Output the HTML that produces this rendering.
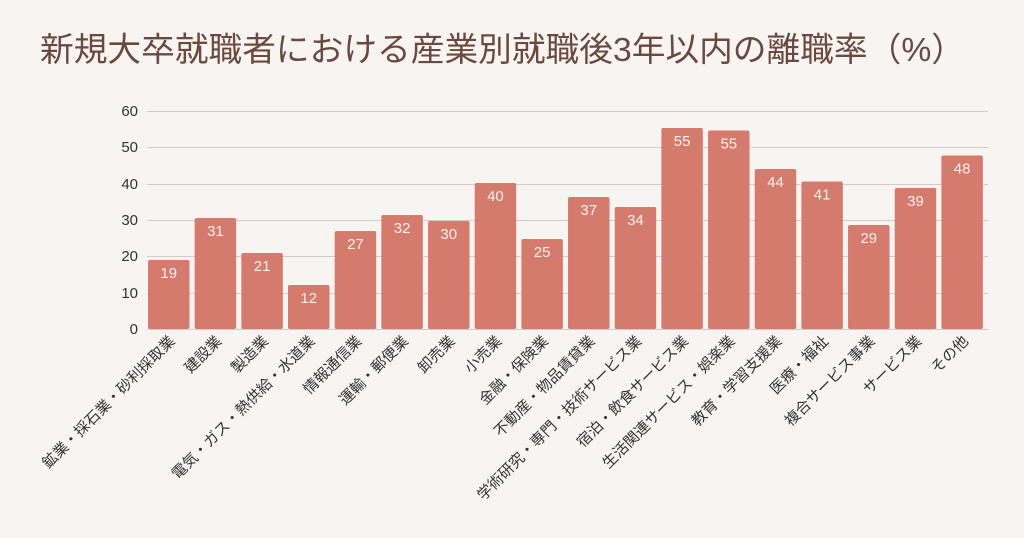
<!DOCTYPE html>
<html><head><meta charset="utf-8"><style>
body{margin:0;background:#f8f4f1;}
svg{display:block;font-family:"Liberation Sans","Noto Sans CJK JP",sans-serif;}
</style></head><body>
<svg width="1024" height="538" xmlns="http://www.w3.org/2000/svg">
<rect width="1024" height="538" fill="#f8f4f1"/>
<text x="40" y="61" font-size="33.5" fill="#6a4a40" textLength="925" lengthAdjust="spacingAndGlyphs">新規大卒就職者における産業別就職後3年以内の離職率（%）</text>
<g stroke="#d2ccc8" stroke-width="1">
<line x1="147" y1="111.5" x2="988" y2="111.5"/>
<line x1="147" y1="147.5" x2="988" y2="147.5"/>
<line x1="147" y1="184.5" x2="988" y2="184.5"/>
<line x1="147" y1="220.5" x2="988" y2="220.5"/>
<line x1="147" y1="256.5" x2="988" y2="256.5"/>
<line x1="147" y1="293.5" x2="988" y2="293.5"/>
<line x1="147" y1="329.5" x2="988" y2="329.5"/>
</g>
<g font-size="15" fill="#333" text-anchor="end">
<text x="138" y="116">60</text><text x="138" y="152">50</text><text x="138" y="189">40</text>
<text x="138" y="225">30</text><text x="138" y="261">20</text><text x="138" y="298">10</text><text x="138" y="334">0</text>
</g>
<g id="bars" fill="#d57b6e"></g>
<g id="vals" font-size="15" fill="#fbeee9" text-anchor="middle"></g>
<g id="labs" font-size="15" fill="#333" text-anchor="end"></g>
<script>
var tops=[260,218,253,285,231,215,221,183,239,197,207,128,130.5,169,181.5,225,188,155.5];
var vals=[19,31,21,12,27,32,30,40,25,37,34,55,55,44,41,29,39,48];
var labs=["鉱業・採石業・砂利採取業","建設業","製造業","電気・ガス・熱供給・水道業","情報通信業","運輸・郵便業","卸売業","小売業","金融・保険業","不動産・物品賃貸業","学術研究・専門・技術サービス業","宿泊・飲食サービス業","生活関連サービス・娯楽業","教育・学習支援業","医療・福祉","複合サービス事業","サービス業","その他"];
var ns="http://www.w3.org/2000/svg";
var B=document.getElementById("bars"),V=document.getElementById("vals"),L=document.getElementById("labs");
for(var i=0;i<18;i++){
 var x=148+i*46.67, cx=x+20.75;
 var r=document.createElementNS(ns,"rect");
 r.setAttribute("x",x);r.setAttribute("y",tops[i]);r.setAttribute("width",41.5);r.setAttribute("height",329-tops[i]);r.setAttribute("rx",2);
 B.appendChild(r);
 var t=document.createElementNS(ns,"text");t.setAttribute("x",cx);t.setAttribute("y",tops[i]+18);t.textContent=vals[i];V.appendChild(t);
 var l=document.createElementNS(ns,"text");l.setAttribute("transform","translate("+(cx+7)+",342) rotate(-45)");l.textContent=labs[i];L.appendChild(l);
}
</script>
</svg>
</body></html>
